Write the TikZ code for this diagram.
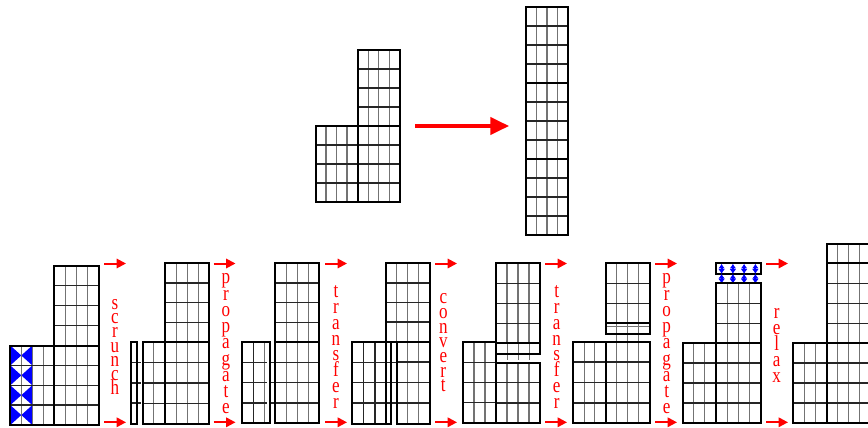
\documentclass[tikz,border=0pt]{standalone}
\usepackage{fontspec}
\newfontfamily\opfont[FakeStretch=0.8]{Liberation Serif}
\usetikzlibrary{arrows.meta}

% one mesh block: x0 y0 x1 y1 columns rows
\newcommand{\blk}[6]{%
  \pgfmathsetmacro{\mcw}{(#3-#1)/#5}%
  \pgfmathsetmacro{\mch}{(#4-#2)/#6}%
  \foreach \k in {1,...,#5}{\ifnum\k<#5\relax \draw[vgrid] ({#1+\k*\mcw},#2) -- ({#1+\k*\mcw},#4);\fi}%
  \foreach \k in {1,...,#6}{\ifnum\k<#6\relax \draw[hgrid] (#1,{#2+\k*\mch}) -- (#3,{#2+\k*\mch});\fi}%
  \draw[blockline] (#1,#2) rectangle (#3,#4);%
}

\begin{document}
\lineskiplimit=-8pt
\begin{tikzpicture}[
    x=0.75pt, y=-0.75pt,
    vgrid/.style={line width=0.8pt, black!55},
    hgrid/.style={line width=1pt, black!85},
    blockline/.style={line width=1.5pt, black},
    oparrow/.style={red, line width=1.5pt, -{Triangle[length=7pt, width=7pt]}},
    bigarrow/.style={red, line width=2.3pt, -{Triangle[length=14pt, width=13pt]}},
    oplabel/.style={text=red, align=center, inner sep=0pt,
        font=\opfont\fontsize{16}{#1}\selectfont},
    oplabel/.default=12,
    syncarrow/.style={blue, line width=1.5pt, {Latex[length=3.5pt, width=5pt]}-{Latex[length=3.5pt, width=5pt]}}
]
   \useasboundingbox (0,0) rectangle (868,428);
   \clip (0,0) rectangle (868,428);

   % Top: L-shaped mesh
   \blk{357.5}{50}{400}{126}{4}{4}
   \blk{315.5}{126}{357.5}{202}{4}{4}
   \blk{357.5}{126}{400}{202}{4}{4}

   % Top: column mesh
   \blk{526}{7}{568}{83}{4}{4}
   \blk{526}{83}{568}{159}{4}{4}
   \blk{526}{159}{568}{235}{4}{4}

   \coordinate (meshL) at (415,126);
   \coordinate (meshR) at (509,126);
   \draw[bigarrow] (meshL) -- (meshR);

   % Step 1: blue columns
   \foreach \ya/\yb in {345.5/365.4, 365.4/385.3, 385.3/405.1, 405.1/425}
      \fill[blue] (10.3,\ya) -- (21.3,{(\ya+\yb)/2}) -- (10.3,\yb) -- cycle
                  (32.3,\ya) -- (21.3,{(\ya+\yb)/2}) -- (32.3,\yb) -- cycle;
   \blk{54}{265.5}{98.5}{345.5}{4}{4}
   \blk{10.3}{345.5}{54}{425}{4}{4}
   \blk{54}{345.5}{98.5}{425}{4}{4}

   % Step 2
   \foreach \y in {362.5, 382.9, 403.1}
      \draw[hgrid] (130.7,\y) -- (140.7,\y);
   \draw[blockline] (130.7,342.3) rectangle (136.7,423.5);
   \blk{142.7}{342.3}{165}{423.5}{2}{4}
   \blk{165}{342.3}{209.3}{423.5}{4}{4}
   \blk{165}{263.3}{209.3}{342.3}{4}{4}

   % Step 3
   \draw[hgrid] (253.3,342.3) -- (253.3,423.3);
   \draw[vgrid] (264.3,342.3) -- (264.3,423.3);
   \foreach \y in {362.5, 382.7, 402.9} {
      \draw[hgrid] (242,\y) -- (266.7,\y);
      \draw[hgrid] (269,\y) -- (273.5,\y);
   }
   \draw[blockline] (242,342.3) rectangle (270.3,423.3);
   \blk{275}{263.3}{319.3}{342.3}{4}{4}
   \blk{275}{342.3}{319.3}{423.3}{4}{4}

   % Step 4
   \foreach \x in {363.3, 375}
      \draw[hgrid] (\x,341.7) -- (\x,423.5);
   \foreach \y in {362.2, 382.6, 403}
      \draw[hgrid] (352,\y) -- (396.7,\y);
   \draw[blockline] (352,341.7) rectangle (391,423.5);
   \blk{385.7}{263.3}{430}{341.7}{4}{4}
   \blk{396.7}{341.7}{430}{423.5}{3}{4}
   \draw[blockline] (385.7,341.7) -- (385.7,423.5);

   % Step 5
   \blk{496}{263.3}{540}{343.3}{4}{4}
   \foreach \x in {507.3, 518.3, 529.3} {
      \draw[vgrid] (\x,343.3) -- (\x,353.7);
      \draw[vgrid] (\x,353.7) -- (\x,359.5);
   }
   \draw[blockline] (496,263.3) rectangle (540,353.7);
   \draw[line width=1.1pt] (496,343.3) -- (540,343.3);
   \blk{463}{342.3}{496}{423}{3}{4}
   \blk{496}{362.7}{540}{423}{4}{3}

   % Step 6
   \blk{605.7}{263.3}{650}{323.3}{4}{3}
   \foreach \x in {616.7, 627.8, 638.9}
      \draw[vgrid] (\x,323.3) -- (\x,340.5);
   \draw[vgrid] (605.7,326.3) -- (650,326.3);
   \draw[blockline] (605.7,263.3) rectangle (650,334.3);
   \draw[line width=1.1pt] (605.7,323.3) -- (650,323.3);
   \blk{573.3}{341.7}{605.7}{423.3}{3}{4}
   \blk{605.7}{341.7}{650}{423.3}{4}{4}

   % Step 7
   \draw[blockline] (716,263.3) rectangle (761,274.3);
   \foreach \x in {721.6, 732.9, 744.1, 755.4} {
      \draw[syncarrow] (\x,263.8) -- (\x,273.8);
      \draw[syncarrow] (\x,274) -- (\x,283.5);
   }
   \blk{716}{283.3}{761}{343.3}{4}{3}
   \blk{682.7}{343.3}{716}{422.7}{3}{4}
   \blk{716}{343.3}{761}{422.7}{4}{4}

   % Step 8
   \blk{826.7}{244}{871}{263.3}{4}{1}
   \blk{826.7}{263.3}{871}{343.3}{4}{4}
   \blk{793.3}{343.3}{826.7}{422.7}{3}{4}
   \blk{826.7}{343.3}{871}{422.7}{4}{4}

   % Arrows between the steps
   \foreach \k/\xa in {1/104, 2/213.5, 3/325, 4/435, 5/545, 6/655, 7/766} {
      \coordinate (top\k-a) at (\xa,263.5);
      \coordinate (top\k-b) at (\xa+22,263.5);
      \coordinate (bot\k-a) at (\xa,422.3);
      \coordinate (bot\k-b) at (\xa+22,422.3);
      \draw[oparrow] (top\k-a) -- (top\k-b);
      \draw[oparrow] (bot\k-a) -- (bot\k-b);
   }

   % Step names
   \node[oplabel=10.6] (scrunch) at (115,347) {s\\c\\r\\u\\n\\c\\h};
   \node[oplabel=12.2] (propagateA) at (226,344) {p\\r\\o\\p\\a\\g\\a\\t\\e};
   \node[oplabel=11.8] (transferA) at (336,347) {t\\r\\a\\n\\s\\f\\e\\r};
   \node[oplabel=11] (convert) at (443.3,343) {c\\o\\n\\v\\e\\r\\t};
   \node[oplabel=11.8] (transferB) at (556.7,347) {t\\r\\a\\n\\s\\f\\e\\r};
   \node[oplabel=12.2] (propagateB) at (666.7,344) {p\\r\\o\\p\\a\\g\\a\\t\\e};
   \node[oplabel=12] (relax) at (776.7,345.5) {r\\e\\l\\a\\x};
\end{tikzpicture}
\end{document}
